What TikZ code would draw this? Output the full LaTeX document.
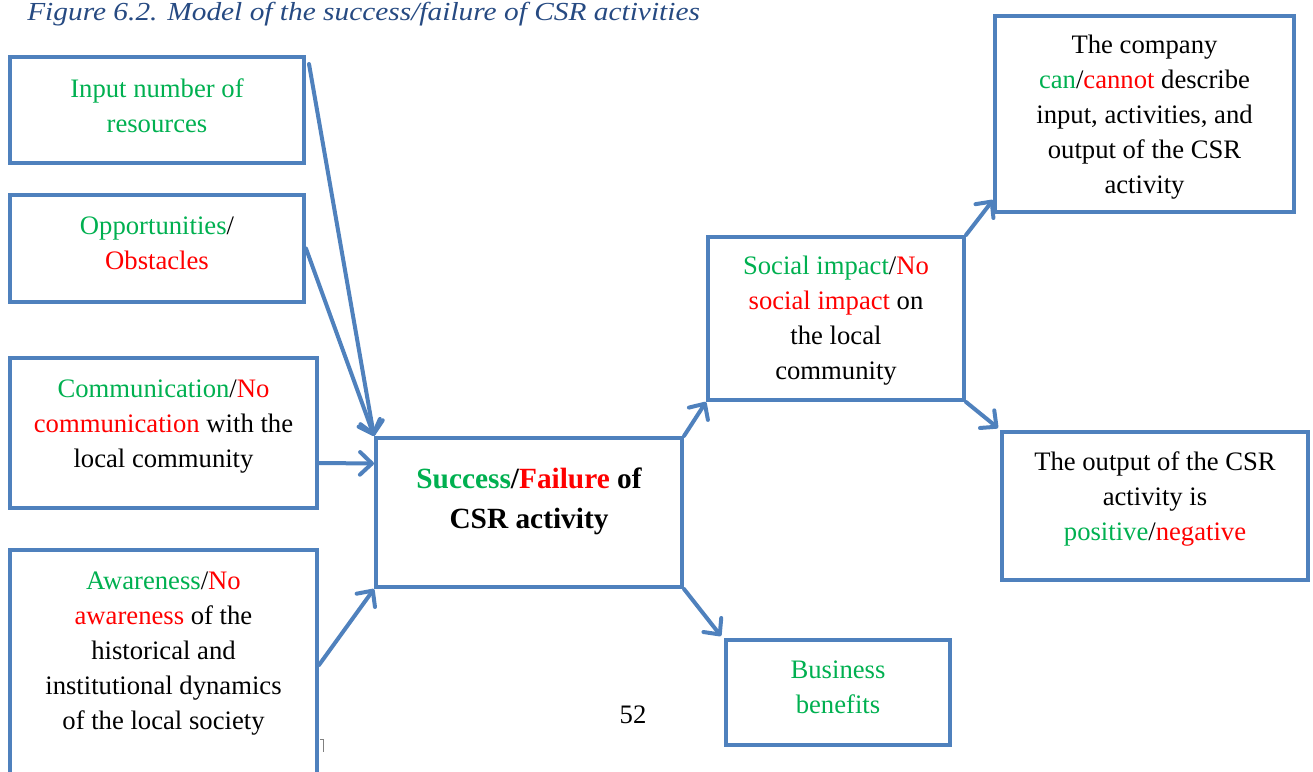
\documentclass[tikz,border=0pt]{standalone}
\usepackage{fontspec}
\setmainfont{Liberation Serif}
\usetikzlibrary{arrows.meta,calc}
\definecolor{boxblue}{RGB}{79,129,189}
\definecolor{okgreen}{RGB}{0,176,80}
\definecolor{badred}{RGB}{255,0,0}
\definecolor{titleblue}{RGB}{38,74,130}
\newcommand{\gtx}[1]{\textcolor{okgreen}{#1}}
\newcommand{\rtx}[1]{\textcolor{badred}{#1}}
\begin{document}
\begin{tikzpicture}[x=0.75pt,y=-0.75pt,
  frame/.style n args={2}{draw=boxblue,line width=3pt,rectangle,inner sep=0pt,
    minimum width=#1*0.75pt,minimum height=#2*0.75pt},
  boxtext/.style={align=center,inner sep=0pt,font=\fontsize{20}{26.25}\selectfont},
  link/.style={draw=boxblue,line width=3pt,line cap=round,
    -{Straight Barb[length=9pt,width=17pt,line width=3pt,round]}}]
\useasboundingbox (0,0) rectangle (1313,771);
\clip (0,0) rectangle (1313,771);

% caption
\node[anchor=base west,inner sep=0pt,text=titleblue,
  font=\fontsize{19.5}{24}\selectfont\itshape] (title) at (27,20.5)
  {\scalebox{1.13}[1]{Figure 6.2. Model of the success/failure of CSR activities}};

% input factors
\node[frame={294}{106}] (input) at (157,110) {};
\node[boxtext] (inputtext) at (157,105.5) {\gtx{Input number of}\\\gtx{resources}};
\node[frame={294}{107}] (opp) at (157,248.5) {};
\node[boxtext] (opptext) at (157,243.5) {\gtx{Opportunities}/\\\rtx{Obstacles}};
\node[frame={307}{150}] (comm) at (163.5,433) {};
\node[boxtext] (commtext) at (163.5,427)
  {\gtx{Communication}/\rtx{No}\\\rtx{communication} with the\\local community};
\node[frame={307}{250}] (aware) at (163.5,675) {};
\node[boxtext] (awaretext) at (163.5,654)
  {\gtx{Awareness}/\rtx{No}\\\rtx{awareness} of the\\historical and\\institutional dynamics\\of the local society};

% central outcome
\node[frame={306}{149}] (core) at (529,512.5) {};
\node[boxtext,font=\fontsize{22}{30}\selectfont\bfseries] (coretext) at (529,501.5)
  {\gtx{Success}/\rtx{Failure} of\\CSR activity};

% consequences
\node[frame={256}{163}] (social) at (836,318.5) {};
\node[boxtext] (socialtext) at (836,321)
  {\gtx{Social impact}/\rtx{No}\\\rtx{social impact} on\\the local\\community};
\node[frame={299}{196}] (company) at (1144.5,114) {};
\node[boxtext] (companytext) at (1144.5,117.5)
  {The company\\\gtx{can}/\rtx{cannot} describe\\input, activities, and\\output of the CSR\\activity};
\node[frame={306}{148}] (output) at (1155,506) {};
\node[boxtext] (outputtext) at (1155,498.5)
  {The output of the CSR\\activity is\\\gtx{positive}/\rtx{negative}};
\node[frame={224}{105}] (business) at (838,692.5) {};
\node[boxtext] (businesstext) at (838,687.5) {\gtx{Business}\\\gtx{benefits}};

% page number
\node[anchor=base,inner sep=0pt,font=\fontsize{20}{24}\selectfont] (pageno) at (633,723) {52};
\draw[gray,line width=0.6pt] (320,739) -- (323,739) -- (323,752);

% connectors
\draw[link] ($(input.north east)+(3,9)$) -- (core.north west);
\draw[link] (opp.east) -- (core.north west);
\draw[link] ($(comm.east)+(0,30)$) -- ($(core.west)+(0,-49)$);
\draw[link] ($(aware.east)+(0,-10)$) -- (core.south west);
\draw[link] (core.north east) -- (social.south west);
\draw[link] (core.south east) -- ($(business.north west)+(-3,-2)$);
\draw[link] (social.north east) -- ($(company.south west)+(0,-14)$);
\draw[link] (social.south east) -- ($(output.north west)+(-2,-2)$);
\end{tikzpicture}
\end{document}
